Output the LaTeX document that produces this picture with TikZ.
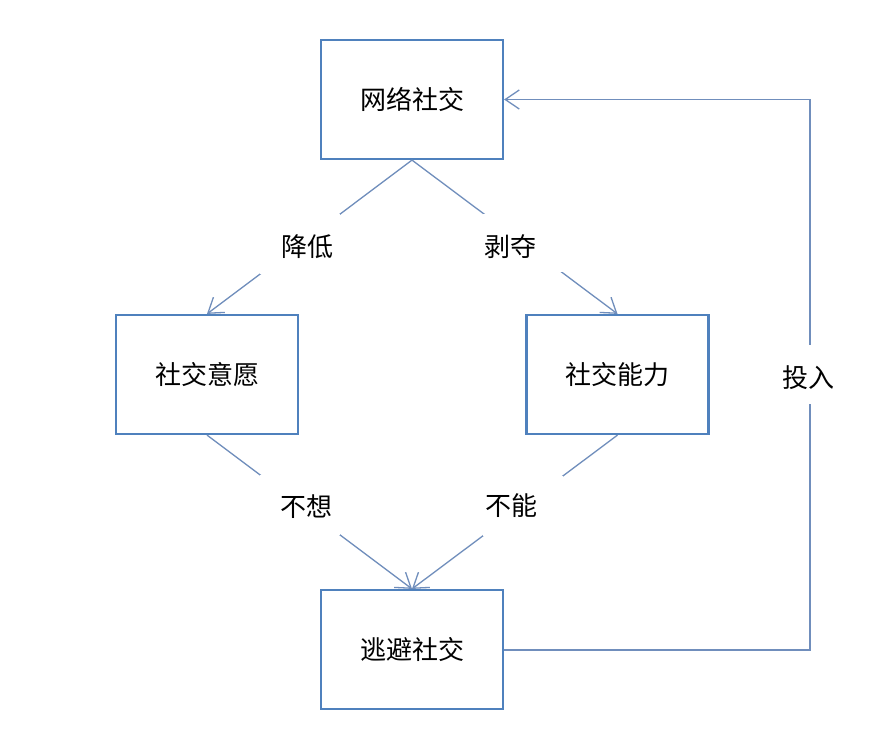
\documentclass[tikz,border=0pt]{standalone}
\usepackage{fontspec}
\newfontfamily\cjk{Noto Sans CJK SC}
\usetikzlibrary{arrows.meta}
\definecolor{boxblue}{RGB}{79,129,189}
\definecolor{lineblue}{RGB}{112,142,188}
\tikzset{
  box/.style={draw=boxblue, line width=2.2pt, fill=white, minimum width=182pt, minimum height=119pt, inner sep=0pt, font=\cjk\fontsize{26}{26}\selectfont},
  conn/.style={draw=lineblue, line width=1.3pt, -{Straight Barb[length=14pt,width=19pt,line width=1.3pt]}},
  gap/.style={fill=white, minimum width=80pt, minimum height=60pt, inner sep=0pt},
  labtext/.style={font=\cjk\fontsize{26}{26}\selectfont, inner sep=0pt}
}
\begin{document}
\begin{tikzpicture}[x=1pt,y=-1pt]
\useasboundingbox[fill=white] (0,0) rectangle (878,732);
\node[box] (net) at (412,99.5) {网络社交};
\node[box] (will) at (207,374.5) {社交意愿};
\node[box] (abil) at (617.5,374.5) {社交能力};
\node[box] (esc) at (412,649.5) {逃避社交};
\coordinate (br) at (810,650);
\coordinate (tr) at (810,99.5);
\draw[conn] (net.south) -- node[gap, pos=0.545, label={[labtext, xshift=7pt, yshift=-2.5pt]center:降低}] {} (will.north);
\draw[conn] (net.south) -- node[gap, pos=0.542, minimum height=58pt, label={[labtext, xshift=-13pt, yshift=-3pt]center:剥夺}] {} (abil.north);
\draw[conn] (will.south) -- node[gap, pos=0.452, label={[labtext, xshift=7pt, yshift=-1.5pt]center:不想}] {} (esc.north);
\draw[conn] (abil.south) -- node[gap, pos=0.458, label={[labtext, xshift=-12pt, yshift=-0.5pt]center:不能}] {} (esc.north);
\draw[conn] (esc.east |- br) -- (br) -- node[gap, minimum height=59pt, label={[labtext, xshift=-2pt, yshift=-2.5pt]center:投入}] {} (tr) -- (net.east);
\end{tikzpicture}
\end{document}
